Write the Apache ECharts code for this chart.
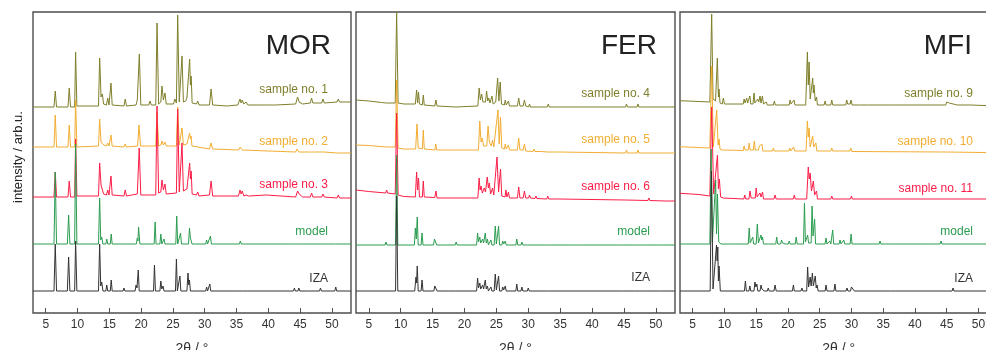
<!DOCTYPE html>
<html><head><meta charset="utf-8">
<script src="https://cdn.jsdelivr.net/npm/echarts@6/dist/echarts.min.js"></script>
<style>html,body{margin:0;padding:0;background:#fff}#c{width:986px;height:350px}</style>
</head><body><div id="c"></div>
<script>
// ---------- DATA (2θ in degrees, intensity in arb. units relative to each trace's baseline) ----------
const tickValues = [5, 10, 15, 20, 25, 30, 35, 40, 45, 50];
const panelNames = ['MOR', 'FER', 'MFI'];
const morLabels = ['sample no. 1', 'sample no. 2', 'sample no. 3', 'model', 'IZA'];
const ferLabels = ['sample no. 4', 'sample no. 5', 'sample no. 6', 'model', 'IZA'];
const mfiLabels = ['sample no. 9', 'sample no. 10', 'sample no. 11', 'model', 'IZA'];
// vertical stacking offsets of the traces (arb. u.)
const morOffsets = [206, 166, 116, 69, 22];
const ferOffsets = [206, 163, 115, 68, 22];
const mfiOffsets = [208, 162, 114, 69, 22];

const mor1 = [[3,0],[6.3,0],[6.5,16],[6.7,0],[8.5,0],[8.7,19],[8.9,0],[9.55,0],[9.7,55],[9.9,1],
[13.3,1],[13.48,49],[13.7,10],[13.9,13],[14.1,3],[14.55,2],[14.75,9],[14.95,2],[15.1,3],[15.26,24],[15.45,2],
[17.3,1],[17.5,8],[17.7,1],[19.2,2],[19.4,7],[19.72,53],[19.95,2],
[21.2,2],[21.4,6],[21.6,2],[22.3,2],[22.5,84],[22.75,3],[23.1,5],[23.28,21],[23.5,7],[23.75,14],[23.95,3],
[25.1,3],[25.3,8],[25.55,4],[25.75,92],[26.0,5],[26.25,6],[26.43,51],[26.65,5],[27.0,6],[27.2,9],[27.45,8],[27.63,48],[27.75,22],[27.87,31],[28.02,4],
[28.7,3],[28.9,6],[29.1,2],[30.75,2],[31.0,18],[31.25,2],
[33.5,1],[35.2,2],[35.55,8],[35.72,4],[35.9,7],[36.15,3],[36.5,5],[36.8,2],
[39.5,2],[39.7,4],[39.9,2],[40.7,2],[40.9,4],[41.1,2],
[44.3,3],[44.6,10],[44.85,5],[45.1,7],[45.4,3],[46.6,4],[46.8,9],[47.0,4],[48.4,4],[48.6,8],[48.8,4],[50.8,5],[51.0,8],[51.2,5],[53,5]];
const mor2 = [[3,0],[6.3,0],[6.5,32],[6.7,0],[8.5,0],[8.7,22],[8.9,0],[9.55,0],[9.7,47],[9.9,0],
[13.3,1],[13.48,28],[13.7,5],[13.9,6],[14.1,2],[14.55,1],[14.75,4],[14.95,1],[15.1,1],[15.26,12],[15.45,1],
[17.3,0],[17.5,3],[17.7,0],[19.45,1],[19.67,22],[19.9,1],
[22.3,1],[22.5,35],[22.75,1],[23.1,2],[23.28,6],[23.5,2],[23.75,5],[23.95,1],
[25.55,1],[25.75,40],[26.0,2],[26.25,2],[26.43,19],[26.65,2],[27.2,3],[27.45,3],[27.63,14],[27.75,8],[27.85,11],[28.0,1],
[30.75,-2],[31.0,4],[31.25,-2],[35.3,-3],[35.6,0],[35.9,-3],[44.3,-5],[44.5,-2],[44.8,-5],[46.4,-5],[46.6,-3],[46.8,-5],[48.4,-5],[48.6,-3],[48.8,-5],[50.8,-6],[51.0,-4],[51.2,-6],[53,-6]];
const mor3 = [[3,0],[6.3,0],[6.5,25],[6.7,0],[8.5,0],[8.7,16],[8.9,0],[9.55,0],[9.7,58],[9.9,1],
[13.3,1],[13.48,34],[13.7,12],[13.9,13],[14.1,3],[14.55,2],[14.75,7],[14.95,2],[15.1,3],[15.26,21],[15.45,2],
[17.3,1],[17.5,7],[17.7,1],[19.4,3],[19.7,49],[19.95,2],[21.2,2],[21.4,4],[21.6,2],
[22.3,2],[22.5,91],[22.75,4],[23.1,5],[23.28,17],[23.5,7],[23.75,13],[23.95,3],
[25.55,4],[25.75,88],[26.0,5],[26.25,6],[26.43,54],[26.65,6],[27.2,8],[27.45,7],[27.63,34],[27.75,18],[27.87,26],[28.02,3],
[28.7,2],[28.9,5],[29.1,1],[30.75,2],[31.0,16],[31.25,1],
[35.3,1],[35.55,7],[35.72,3],[35.9,6],[36.15,1],[36.5,2],[36.7,3],[36.9,1],[39.7,2],
[44.3,0],[44.6,6],[44.85,3],[45.1,4],[45.4,0],[46.6,0],[46.8,4],[47.0,0],[48.4,0],[48.6,3],[48.8,0],[50.8,-1],[51.0,2],[51.2,-1],[53,-1]];
const morModel = [[3,0],[6.3,0],[6.5,72],[6.7,0],[8.4,0],[8.6,29],[8.8,0],[9.55,0],[9.7,100],[9.9,0],
[13.3,0],[13.48,46],[13.65,4],[13.8,7],[14.0,0],[14.45,0],[14.6,5],[14.75,0],[15.15,0],[15.3,10],[15.45,0],
[17.2,0],[17.35,2],[17.5,0],[19.25,0],[19.4,6],[19.5,3],[19.6,17],[19.8,0],
[22.05,0],[22.2,22],[22.35,0],[22.95,0],[23.1,10],[23.25,0],[23.45,0],[23.6,5],[23.75,0],
[25.45,0],[25.6,28],[25.75,0],[26.05,0],[26.2,11],[26.35,0],[27.45,0],[27.6,16],[27.75,6],[27.85,6],[28.0,0],
[28.55,0],[28.7,2],[28.85,0],[30.15,0],[30.3,4],[30.45,0],[30.75,0],[30.9,8],[31.05,0],
[33.2,0],[33.3,1],[33.4,0],[35.45,0],[35.6,3],[35.75,0],[36.4,0],[36.5,2],[36.6,0],
[44.15,0],[44.3,2],[44.45,0],[44.75,0],[44.9,2],[45.05,0],[46.25,0],[46.4,2],[46.55,0],[48.15,0],[48.3,2],[48.45,0],[50.55,0],[50.7,2],[50.85,0],[53,0]];
const morIZA = [[3,0],[6.3,0],[6.5,47],[6.7,0],[8.4,0],[8.6,34],[8.8,0],[9.55,0],[9.7,50],[9.9,0],
[13.3,0],[13.48,47],[13.65,5],[13.8,9],[14.0,0],[14.45,0],[14.6,6],[14.75,0],[15.15,0],[15.3,11],[15.45,0],
[17.15,0],[17.3,3],[17.45,0],[19.05,0],[19.2,6],[19.35,3],[19.55,21],[19.7,0],
[21.95,0],[22.1,26],[22.25,0],[22.95,0],[23.1,10],[23.25,2],[23.45,5],[23.6,0],
[25.4,0],[25.55,32],[25.7,0],[25.95,0],[26.1,15],[26.25,0],[27.2,0],[27.37,18],[27.5,6],[27.6,11],[27.75,0],
[28.45,0],[28.6,2],[28.75,0],[30.15,0],[30.3,4],[30.45,0],[30.65,0],[30.8,7],[30.95,0],
[35.25,0],[35.4,2],[35.55,0],[35.95,0],[36.1,2],[36.25,0],
[43.95,0],[44.1,3],[44.25,0],[44.65,0],[44.8,3],[44.95,0],[46.15,0],[46.3,2],[46.45,0],[48.05,0],[48.2,3],[48.35,0],[50.45,0],[50.6,4],[50.75,0],[53,0]];

const fer4 = [[3,7],[5,6],[7,4.5],[7.8,4],[7.96,6],[8.1,4],[9.15,4],[9.37,95],[9.6,4],[10.5,3],
[12.3,3],[12.5,17],[12.65,4],[12.8,15],[12.95,3],[13.4,2],[13.55,12],[13.7,2],
[15.35,1],[15.53,7],[15.7,1],[18.65,0],[18.8,2],[18.95,0],
[22.1,1],[22.3,19],[22.5,7],[22.7,13],[22.9,5],[23.3,5],[23.47,16],[23.65,6],[23.8,9],[24.0,4],[24.3,11],[24.5,3],[24.7,4],[24.9,5],
[25.2,29],[25.4,6],[25.6,25],[25.8,3],[26.25,2],[26.4,7],[26.55,2],[26.75,2],[26.9,6],[27.05,1],
[28.3,1],[28.5,9],[28.7,1],[29.2,1],[29.4,7],[29.6,1],[30.05,0],[30.2,3],[30.35,0],[30.75,0],[30.9,2],[31.05,0],[32.05,0],[32.2,2],[32.35,0],
[33.0,0],[33.14,3],[33.3,0],[34.85,0],[35.0,2],[35.15,0],[37.95,0],[38.1,2],[38.25,0],
[45.25,0],[45.4,3],[45.55,0],[47.05,0],[47.2,3],[47.35,0],[48.75,0],[48.9,2],[49.05,0],[51.45,0],[51.6,2],[51.75,0],[53,0]];
const fer5 = [[3,5],[5,4.5],[7.8,3],[7.96,5],[8.1,3],[9.15,3],[9.37,70],[9.6,2],[10.5,1],
[12.35,1],[12.56,26],[12.75,2],[13.4,1],[13.55,20],[13.7,1],
[15.35,0],[15.5,6],[15.65,0],[18.65,0],[18.8,1],[18.95,0],
[22.2,0],[22.4,29],[22.6,8],[22.8,12],[23.0,4],[23.5,4],[23.7,24],[23.9,8],[24.2,4],[24.4,10],[24.6,3],[24.9,5],
[25.25,40],[25.45,6],[25.65,33],[25.85,2],[26.25,1],[26.4,6],[26.55,1],[26.75,1],[26.9,5],[27.05,0],
[28.3,0],[28.5,12],[28.7,0],[29.2,0],[29.4,6],[29.6,-1],[30.75,-1.5],[30.9,1],[31.05,-1.5],[32.05,-1.5],[32.2,0],[32.35,-1.5],
[33.0,-2],[33.14,0],[33.3,-2],[34.85,-2],[35.0,0],[35.15,-2],
[45.25,-3],[45.4,0],[45.55,-3],[47.05,-3],[47.2,0],[47.35,-3],[48.75,-3],[48.9,-1],[49.05,-3],[51.45,-3],[51.6,-1],[51.75,-3],[53,-3]];
const fer6 = [[3,8],[5,6.5],[7.65,5],[7.8,8],[7.95,5],[9.15,4],[9.37,85],[9.6,3],[10.5,1.5],
[12.3,1],[12.5,26],[12.65,8],[12.8,20],[12.95,1],[13.4,1],[13.55,17],[13.7,1],
[15.35,0.5],[15.53,7],[15.7,0],[18.65,0],[18.8,1],[18.95,0],
[22.1,0],[22.3,20],[22.45,8],[22.6,12],[22.8,5],[23.1,10],[23.3,6],[23.57,21],[23.75,10],[23.9,15],[24.1,4],[24.4,10],[24.6,3],[24.9,4],
[25.1,41],[25.35,6],[25.65,29],[25.85,2],[26.35,1],[26.5,8],[26.65,1],[26.75,1],[26.9,6],[27.05,0],
[28.3,0],[28.5,11],[28.7,0],[29.2,0],[29.4,7],[29.6,0],[30.05,0],[30.2,3],[30.35,0],[31.05,-0.5],[31.2,2],[31.35,-0.5],
[32.9,-1],[33.05,2],[33.2,-1],[34.85,-1],[35.0,1],[35.15,-1],
[45.25,-2],[45.4,0],[45.55,-2],[48.75,-2.5],[48.9,0],[49.05,-2.5],[51.45,-3],[51.6,-1],[51.75,-3],[53,-3]];
const ferModel = [[3,0],[7.55,0],[7.7,3],[7.85,0],[9.2,0],[9.37,90],[9.55,0],
[12.15,0],[12.3,17],[12.45,6],[12.6,28],[12.75,0],[13.2,0],[13.35,12],[13.5,0],
[15.15,0],[15.3,6],[15.4,4],[15.5,6],[15.65,0],[16.2,0],[16.3,2],[16.4,0],[18.55,0],[18.7,3],[18.85,0],
[21.9,0],[22.06,12],[22.2,3],[22.4,8],[22.55,2],[22.85,6],[23.0,2],[23.26,12],[23.42,2],[23.6,6],[23.75,0],[24.0,0],[24.15,5],[24.3,0],
[24.65,0],[24.83,19],[25.0,1],[25.2,1],[25.35,19],[25.5,0],[25.85,0],[26.0,4],[26.15,1],[26.4,4],[26.55,0],
[28.05,0],[28.2,6],[28.35,0],[28.85,0],[29.0,3],[29.15,0],[29.85,0],[30.0,2],[30.15,0],
[33.15,0],[33.3,2],[33.45,0],[36.35,0],[36.5,1],[36.65,0],[37.85,0],[38.0,1],[38.15,0],
[44.75,0],[44.9,2],[45.05,0],[46.65,0],[46.8,2],[46.95,0],[47.85,0],[48.0,1],[48.15,0],[50.85,0],[51.0,2],[51.15,0],[53,0]];
const ferIZA = [[3,0],[7.55,0],[7.7,2],[7.85,0],[9.2,0],[9.37,95],[9.55,0],
[12.2,0],[12.4,14],[12.5,8],[12.6,25],[12.75,0],[13.2,0],[13.35,11],[13.5,0],
[15.2,0],[15.35,5],[15.45,4],[15.55,5],[15.7,0],[18.55,0],[18.7,2],[18.85,0],
[21.9,0],[22.06,13],[22.2,3],[22.4,8],[22.55,2],[22.85,6],[23.0,2],[23.26,11],[23.42,2],[23.6,5],[23.75,0],[24.0,0],[24.15,4],[24.3,0],
[24.65,0],[24.83,17],[25.0,1],[25.2,1],[25.35,15],[25.5,0],[25.85,0],[26.0,4],[26.15,1],[26.4,5],[26.55,0],
[28.05,0],[28.2,7],[28.35,0],[28.85,0],[29.0,4],[29.15,0],[29.85,0],[30.0,3],[30.15,0],
[33.15,0],[33.3,2],[33.45,0],[44.75,0],[44.9,2],[45.05,0],[46.65,0],[46.8,2],[46.95,0],[47.95,0],[48.1,2],[48.25,0],[50.75,0],[50.9,2],[51.05,0],[53,0]];

const mfi9 = [[3,4.3],[6,3.5],[7.7,3],[7.99,91],[8.2,6],[8.4,8],[8.6,4],[8.88,47],[9.05,8],[9.15,16],[9.3,2],[9.65,1],[9.83,7],[10.0,1],
[11.75,1],[11.9,3],[12.05,1],[12.95,1],[13.1,6],[13.25,2],[13.5,7],[13.65,2],[13.85,2],[14.0,9],[14.15,1],[14.5,1],[14.66,12],[14.8,2],[15.1,2],[15.24,6],[15.4,3],[15.6,9],[15.75,2],[15.97,9],[16.15,1],
[16.45,1],[16.6,3],[16.75,0],[17.7,0],[17.86,4],[18.0,0],[18.85,0],[19.0,2],[19.15,0],[20.2,0],[20.33,5],[20.5,1],[20.8,1],[20.96,5],[21.1,0],
[22.8,0],[23.06,53],[23.2,20],[23.33,43],[23.5,6],[23.75,8],[23.9,27],[24.0,12],[24.1,20],[24.3,4],[24.5,8],[24.65,0],
[25.7,0],[25.85,4],[26.0,0],[26.75,0],[26.9,5],[27.05,0],[29.1,0],[29.26,5],[29.4,1],[29.8,1],[29.94,5],[30.1,0],[31.25,0],[31.4,2],[31.55,0],
[32.5,0],[32.67,2],[32.8,0],[35.95,0],[36.1,2],[36.25,0],[44.85,0],[45.0,3],[45.2,1],[45.4,2],[45.55,0],[46.65,0],[46.8,2],[46.95,0],[48.75,0],[48.9,1],[49.05,0],[53,-1]];
const mfi10 = [[3,4.3],[6,3.5],[7.7,3],[7.99,85],[8.25,4],[8.5,3],[8.78,41],[9.0,6],[9.15,12],[9.3,2],[9.65,1],[9.83,3],[10.0,1],
[12.95,0.5],[13.1,5],[13.25,1],[13.75,1],[13.9,8],[14.05,1],[14.55,1],[14.7,10],[14.85,1],[15.35,1],[15.5,5],[15.7,3],[15.9,7],[16.05,0],
[17.55,0],[17.7,3],[17.85,0],[20.15,0],[20.3,3],[20.45,0],[20.75,0],[20.9,4],[21.05,0],
[22.85,0],[23.06,30],[23.2,14],[23.33,23],[23.5,4],[23.75,6],[23.9,15],[24.05,4],[24.25,3],[24.4,8],[24.55,0],
[26.75,0],[26.9,3],[27.05,0],[29.75,0],[29.9,3],[30.05,-0.5],[44.85,-1],[45.0,1],[45.15,-1],[53,-1.7]];
const mfi11 = [[3,5.7],[6,4.5],[7.7,3],[7.99,92],[8.3,5],[8.6,4],[8.9,44],[9.05,10],[9.2,20],[9.4,2],[9.8,1],
[13.05,0],[13.2,4],[13.35,0],[13.85,0],[14.03,8],[14.2,1],[14.85,1],[15.0,11],[15.15,2],[15.45,1],[15.6,6],[15.75,2],[16.0,7],[16.15,0],
[17.8,0],[17.97,4],[18.15,0],[19.35,0],[19.5,2],[19.65,0],[20.85,0],[21.0,4],[21.15,0],
[22.95,0],[23.2,32],[23.35,20],[23.5,26],[23.7,8],[24.0,18],[24.2,4],[24.35,3],[24.5,8],[24.65,0],
[26.75,0],[26.9,3],[27.05,0],[29.85,0],[30.0,3],[30.15,0],[44.85,0],[45.0,2],[45.15,0],[53,0]];
const mfiModel = [[3,0],[7.7,0],[7.9,95],[8.1,2],[8.4,2],[8.62,64],[8.75,10],[8.9,50],[9.1,2],[9.3,4],[9.45,0],
[11.55,0],[11.7,2],[11.85,0],[13.75,0],[13.9,16],[14.05,1],[14.3,1],[14.45,7],[14.6,0],[15.0,0],[15.18,20],[15.35,1],[15.6,1],[15.76,9],[15.88,4],[16.0,7],[16.15,0],
[16.95,0],[17.1,2],[17.25,0],[18.08,0],[18.23,7],[18.38,0],[18.85,0],[19.0,4],[19.15,1],[19.3,1],[19.4,3],[19.55,0],[20.05,0],[20.2,3],[20.35,0],[21.15,0],[21.3,7],[21.45,0],
[22.45,0],[22.6,41],[22.75,2],[22.95,1],[23.1,9],[23.25,1],[23.65,1],[23.8,38],[23.95,8],[24.2,25],[24.35,0],
[25.85,0],[26.0,6],[26.15,0],[26.45,0],[26.6,3],[26.75,0],[26.9,0],[27.05,14],[27.2,0],[28.05,0],[28.2,4],[28.35,0],[28.65,0],[28.8,4],[28.95,0],[29.8,0],[29.94,10],[30.1,0],
[32.75,0],[32.9,2],[33.05,0],[34.35,0],[34.5,3],[34.65,0],[35.95,0],[36.1,2],[36.25,0],[42.25,0],[42.4,2],[42.55,0],[43.95,0],[44.1,3],[44.25,0],[44.75,0],[44.9,2],[45.05,0],[46.95,0],[47.1,2],[47.25,0],[53,0]];
const mfiIZA = [[3,0],[7.75,0],[7.96,120],[8.2,2],[8.5,2],[8.75,46],[8.85,30],[8.95,44],[9.05,10],[9.15,25],[9.35,0],
[13.15,0],[13.3,10],[13.45,0],[13.85,0],[14.0,5],[14.15,0],[14.65,0],[14.8,9],[14.95,4],[15.1,7],[15.25,0],[15.6,0],[15.76,6],[15.9,2],[16.1,4],[16.25,0],[16.75,0],[16.9,3],[17.05,0],
[17.8,0],[17.97,6],[18.15,0],[19.35,0],[19.5,2],[19.65,0],[20.7,0],[20.86,6],[21.0,0],[22.05,0],[22.2,3],[22.35,0],
[22.95,0],[23.1,24],[23.25,4],[23.5,14],[23.65,5],[23.85,18],[24.0,5],[24.3,15],[24.45,3],[24.6,6],[24.75,0],
[25.85,0],[26.0,6],[26.15,0],[27.25,0],[27.4,7],[27.55,0],[29.15,0],[29.3,3],[29.45,0],[29.85,0],[30.0,4],[30.15,2],[30.3,3],[30.45,0],
[36.15,0],[36.3,2],[36.45,0],[45.85,0],[46.0,3],[46.15,0],[53,0]];

// ---------- STYLE / LAYOUT ----------
const colors = ['#7f7f2b', '#f2ad32', '#fb1d47', '#2b9c4f', '#333333'];
const FONT = "'Liberation Sans', Arial, sans-serif";
const panels = [
  { traces: [mor1, mor2, mor3, morModel, morIZA], offsets: morOffsets, labels: morLabels,
    grid: { left: 33, top: 12, width: 318, height: 301 }, labelRight: 328, labelY: [90, 141.5, 184.5, 232, 279], titleRight: 331 },
  { traces: [fer4, fer5, fer6, ferModel, ferIZA], offsets: ferOffsets, labels: ferLabels,
    grid: { left: 356, top: 12, width: 319, height: 301 }, labelRight: 650, labelY: [94, 140, 187, 232, 277.5], titleRight: 657 },
  { traces: [mfi9, mfi10, mfi11, mfiModel, mfiIZA], offsets: mfiOffsets, labels: mfiLabels,
    grid: { left: 680, top: 12, width: 317.5, height: 301 }, labelRight: 973, labelY: [94, 142, 189, 232, 279], titleRight: 972 }
];

const option = {
  animation: false,
  backgroundColor: '#ffffff',
  grid: panels.map(p => Object.assign({ show: true, borderColor: '#4d4d4d', borderWidth: 1.4, backgroundColor: 'transparent',
    containLabel: false, outerBoundsMode: 'none' }, p.grid)),
  xAxis: panels.map((p, i) => ({
    type: 'value', gridIndex: i, min: 3, max: 53,
    name: '2\u03b8 / \u00b0', nameLocation: 'middle', nameGap: 29,
    nameTextStyle: { fontFamily: FONT, fontSize: 14, color: '#333' },
    axisLine: { show: false },
    axisTick: { show: true, inside: true, length: 5, customValues: tickValues, lineStyle: { color: '#4d4d4d', width: 1 } },
    axisLabel: { customValues: tickValues, margin: 6, fontFamily: FONT, fontSize: 12, color: '#333' },
    splitLine: { show: false }
  })),
  yAxis: panels.map((p, i) => ({
    type: 'value', gridIndex: i, min: 0, max: 301,
    axisLine: { show: false }, axisTick: { show: false }, axisLabel: { show: false }, splitLine: { show: false }
  })),
  series: [],
  graphic: []
};

panels.forEach((p, i) => {
  p.traces.forEach((tr, k) => {
    option.series.push({
      type: 'line', xAxisIndex: i, yAxisIndex: i, showSymbol: false, symbol: 'none',
      clip: true, silent: true,
      lineStyle: { color: colors[k], width: 1 },
      data: tr.map(pt => [pt[0], pt[1] + p.offsets[k]])
    });
    option.graphic.push({
      type: 'text', x: p.labelRight, y: p.labelY[k],
      style: { text: p.labels[k], fill: colors[k], font: '12px ' + FONT, textAlign: 'right', textVerticalAlign: 'middle' }
    });
  });
  option.graphic.push({
    type: 'text', x: p.titleRight, y: 46,
    style: { text: panelNames[i], fill: '#222', font: '28px ' + FONT, textAlign: 'right', textVerticalAlign: 'middle' }
  });
});
option.graphic.push({
  type: 'text', x: 18, y: 157, rotation: Math.PI / 2,
  style: { text: 'intensity / arb.u.', fill: '#222', font: '13px ' + FONT, textAlign: 'center', textVerticalAlign: 'middle' }
});

const chart = echarts.init(document.getElementById('c'), null, { renderer: 'canvas' });
chart.setOption(option);
</script>
</body></html>
